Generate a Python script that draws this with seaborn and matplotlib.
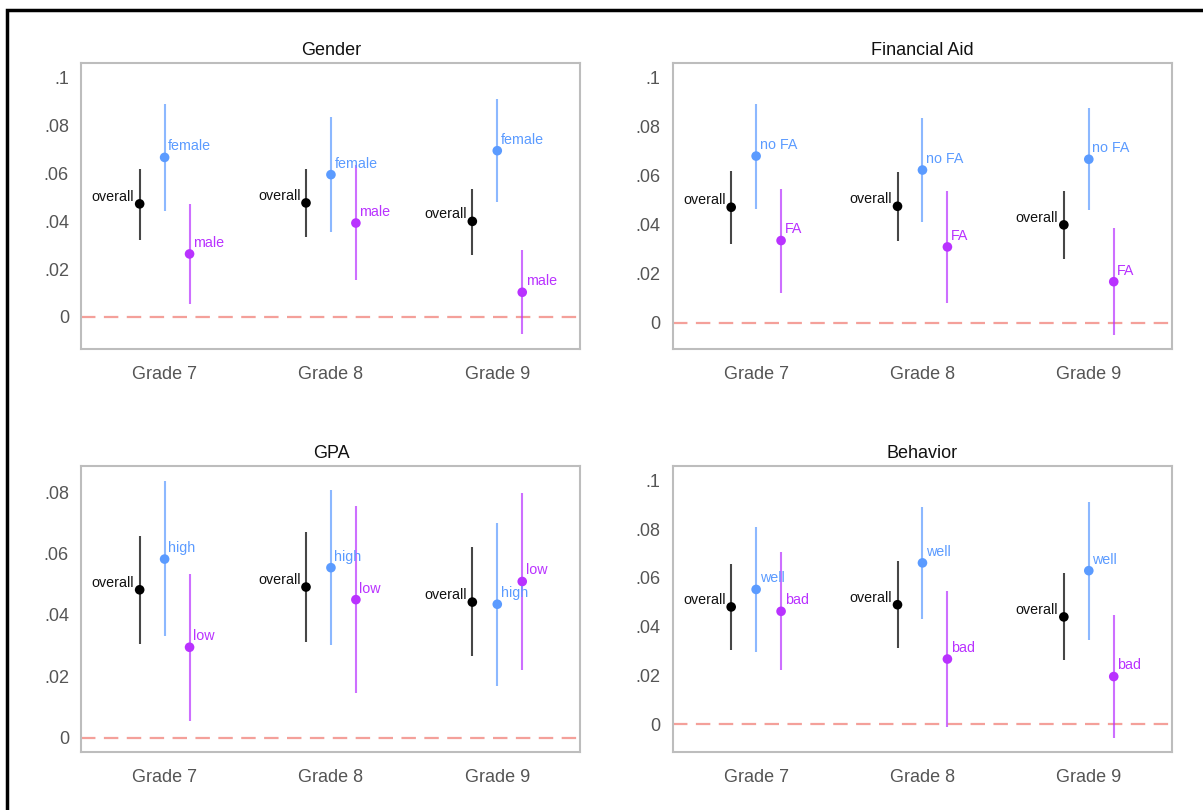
import matplotlib
matplotlib.use("Agg")
import matplotlib.pyplot as plt
from matplotlib.patches import Rectangle
from matplotlib.ticker import FuncFormatter
import numpy as np
import pandas as pd
import seaborn as sns

# ---------------------------------------------------------------------------
# Data
# ---------------------------------------------------------------------------
grades = ["Grade 7", "Grade 8", "Grade 9"]

# Gender
gender_overall = [0.0472, 0.0476, 0.0399]
gender_overall_lo = [0.0323, 0.0334, 0.0260]
gender_overall_hi = [0.0618, 0.0616, 0.0535]
gender_female = [0.0666, 0.0594, 0.0694]
gender_female_lo = [0.0444, 0.0356, 0.0481]
gender_female_hi = [0.0889, 0.0834, 0.0910]
gender_male = [0.0263, 0.0392, 0.0103]
gender_male_lo = [0.0054, 0.0153, -0.0071]
gender_male_hi = [0.0470, 0.0633, 0.0280]

# Financial Aid
fa_overall = [0.0471, 0.0475, 0.0399]
fa_overall_lo = [0.0321, 0.0335, 0.0260]
fa_overall_hi = [0.0620, 0.0616, 0.0536]
fa_nofa = [0.0680, 0.0623, 0.0667]
fa_nofa_lo = [0.0465, 0.0412, 0.0459]
fa_nofa_hi = [0.0893, 0.0834, 0.0875]
fa_fa = [0.0335, 0.0309, 0.0167]
fa_fa_lo = [0.0122, 0.0082, -0.0049]
fa_fa_hi = [0.0546, 0.0536, 0.0385]

# GPA
gpa_overall = [0.0482, 0.0491, 0.0442]
gpa_overall_lo = [0.0305, 0.0312, 0.0265]
gpa_overall_hi = [0.0658, 0.0670, 0.0621]
gpa_high = [0.0582, 0.0554, 0.0435]
gpa_high_lo = [0.0330, 0.0301, 0.0169]
gpa_high_hi = [0.0837, 0.0807, 0.0700]
gpa_low = [0.0295, 0.0450, 0.0509]
gpa_low_lo = [0.0056, 0.0145, 0.0221]
gpa_low_hi = [0.0533, 0.0754, 0.0798]

# Behavior
beh_overall = [0.0481, 0.0490, 0.0440]
beh_overall_lo = [0.0305, 0.0311, 0.0262]
beh_overall_hi = [0.0658, 0.0668, 0.0619]
beh_well = [0.0553, 0.0662, 0.0630]
beh_well_lo = [0.0297, 0.0432, 0.0345]
beh_well_hi = [0.0808, 0.0893, 0.0914]
beh_bad = [0.0463, 0.0267, 0.0195]
beh_bad_lo = [0.0222, -0.0011, -0.0058]
beh_bad_hi = [0.0707, 0.0547, 0.0448]

panels = [
    ("Gender", ["overall", "female", "male"],
     [gender_overall, gender_female, gender_male],
     [gender_overall_lo, gender_female_lo, gender_male_lo],
     [gender_overall_hi, gender_female_hi, gender_male_hi],
     (-0.0134, 0.106), [0, 0.02, 0.04, 0.06, 0.08, 0.1]),
    ("Financial Aid", ["overall", "no FA", "FA"],
     [fa_overall, fa_nofa, fa_fa],
     [fa_overall_lo, fa_nofa_lo, fa_fa_lo],
     [fa_overall_hi, fa_nofa_hi, fa_fa_hi],
     (-0.0108, 0.106), [0, 0.02, 0.04, 0.06, 0.08, 0.1]),
    ("GPA", ["overall", "high", "low"],
     [gpa_overall, gpa_high, gpa_low],
     [gpa_overall_lo, gpa_high_lo, gpa_low_lo],
     [gpa_overall_hi, gpa_high_hi, gpa_low_hi],
     (-0.0046, 0.0885), [0, 0.02, 0.04, 0.06, 0.08]),
    ("Behavior", ["overall", "well", "bad"],
     [beh_overall, beh_well, beh_bad],
     [beh_overall_lo, beh_well_lo, beh_bad_lo],
     [beh_overall_hi, beh_well_hi, beh_bad_hi],
     (-0.0115, 0.106), [0, 0.02, 0.04, 0.06, 0.08, 0.1]),
]

COLORS = ["#000000", "#5B9BFF", "#B932FF"]
OFFSETS = [-0.15, 0.0, 0.15]
FONT = ["Liberation Sans", "DejaVu Sans"]


def tick_fmt(v, _pos):
    if abs(v) < 1e-9:
        return "0"
    s = f"{v:.2f}".rstrip("0").rstrip(".")
    return s[1:] if s.startswith("0.") else s


def draw_panel(ax, title, groups, est, lo, hi, ylim, yticks):
    rows = []
    for g, (name, e, l, h) in enumerate(zip(groups, est, lo, hi)):
        for i, grade in enumerate(grades):
            rows.append({"group": name, "grade": grade, "x": i + 1 + OFFSETS[g],
                         "est": e[i], "lo": l[i], "hi": h[i], "gi": g})
    df = pd.DataFrame(rows)

    ax.axhline(0, color="#F4A09A", lw=1.6, dashes=(6.5, 3.8), zorder=1)
    for g, name in enumerate(groups):
        sub = df[df.gi == g]
        line_col = "#333333" if g == 0 else COLORS[g]
        ax.vlines(sub.x, sub.lo, sub.hi, colors=line_col, lw=1.5,
                  alpha=0.9 if g == 0 else 0.7, zorder=2)
    sns.scatterplot(data=df, x="x", y="est", hue="group", palette=COLORS,
                    hue_order=groups, s=48, edgecolor="none", legend=False,
                    ax=ax, zorder=3)
    for _, r in df.iterrows():
        if r.gi == 0:
            ax.annotate(r.group, (r.x, r.est), xytext=(-4, 5),
                        textcoords="offset points", ha="right", va="center",
                        fontsize=10.3, color="#111111", family=FONT)
        else:
            ax.annotate(r.group, (r.x, r.est), xytext=(2.5, 8),
                        textcoords="offset points", ha="left", va="center",
                        fontsize=10.3, color=COLORS[r.gi], family=FONT)

    ax.set_xlim(0.5, 3.5)
    ax.set_ylim(*ylim)
    ax.set_xticks([1, 2, 3])
    ax.set_xticklabels(grades)
    ax.set_yticks(yticks)
    ax.yaxis.set_major_formatter(FuncFormatter(tick_fmt))
    ax.set_xlabel("")
    ax.set_ylabel("")
    ax.set_title(title, fontsize=13, color="#111111", pad=6)
    ax.tick_params(axis="both", length=7, width=1.2, color="#9a9a9a",
                   labelcolor="#555555", labelsize=13)
    ax.tick_params(axis="y", pad=2)
    ax.tick_params(axis="x", pad=5)
    for sp in ax.spines.values():
        sp.set_color("#BDBDBD")
        sp.set_linewidth(1.5)


sns.set_theme(style="white")
plt.rcParams["font.family"] = FONT

fig = plt.figure(figsize=(12.03, 8.10), dpi=100)
positions = [
    [0.0677, 0.5691, 0.4148, 0.3531],
    [0.5594, 0.5691, 0.4148, 0.3531],
    [0.0677, 0.0716, 0.4148, 0.3531],
    [0.5594, 0.0716, 0.4148, 0.3531],
]
for pos, spec in zip(positions, panels):
    ax = fig.add_axes(pos)
    draw_panel(ax, *spec)

# black frame around the screenshot (left and top edges visible)
fig.patches.append(Rectangle((7 / 1203, -0.1), 1.2, 1.1 - 10 / 810,
                             transform=fig.transFigure, fill=False,
                             edgecolor="black", lw=2.5))

fig.savefig("out.png", dpi=100)
